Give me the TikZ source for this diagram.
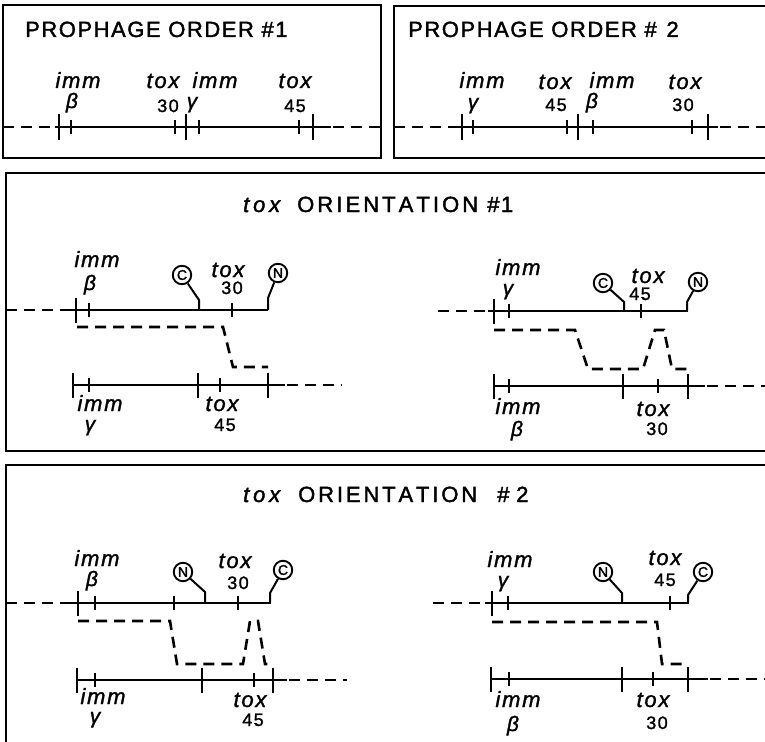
\documentclass[tikz,border=0pt]{standalone}
\usepackage{fontspec}
\setmainfont{Liberation Sans}
\newfontfamily\titlefont[LetterSpace=7,FakeBold=1.8]{Liberation Sans}
\newfontfamily\labfont[LetterSpace=8,FakeBold=1.4]{Liberation Sans}
\newfontfamily\grkfont[FakeBold=1.4]{Liberation Sans}
\newfontfamily\circfont[FakeBold=2]{Liberation Sans}
\newcommand\orient[1]{\makebox[#1][s]{O\hfill R\hfill I\hfill E\hfill N\hfill T\hfill A\hfill T\hfill I\hfill O\hfill N}}
\newcommand\toxttl{\makebox[37pt][s]{\itshape t\hfill o\hfill x}}
\tikzset{
  frame/.style={line width=2pt},
  chrom/.style={line width=2.9pt},
  dline/.style={line width=2.6pt, dash pattern=on 11pt off 7pt},
  tline/.style={line width=2.6pt},
  stem/.style={line width=2pt},
  circ/.style={circle, draw, line width=1.9pt, minimum size=18.5pt, inner sep=0pt, font=\fontsize{14}{14}\selectfont\circfont},
  lab/.style={anchor=base, inner sep=0pt, font=\fontsize{22}{22}\selectfont\labfont\itshape},
  num/.style={anchor=base, inner sep=0pt, font=\fontsize{18}{18}\selectfont\labfont},
  grk/.style={anchor=base, inner sep=0pt, font=\fontsize{21}{21}\selectfont\grkfont\itshape},
  ttl/.style={anchor=base west, inner sep=0pt, font=\fontsize{22}{22}\selectfont\titlefont},
  bigtk/.pic={\draw[tline] (0,-12.5) -- (0,12.5);},
  smtk/.pic={\draw[tline] (0,-7) -- (0,7);}
}
\begin{document}
\begin{tikzpicture}[x=1pt,y=-1pt]
\useasboundingbox (0,0) rectangle (765,741);
% frames
\draw[frame] (3,5) rectangle (381,158);
\draw[frame] (767,6) -- (394,6) -- (394,158) -- (767,158);
\draw[frame] (767,173) -- (6,173) -- (6,451) -- (767,451);
\draw[frame] (767,465) -- (6,465) -- (6,743);

% titles
\node[ttl] (t1) at (25,37) {PROPHAGE ORDER \#1};
\node[ttl] (t2) at (408,37) {PROPHAGE ORDER \#\hspace{2pt} 2};
\node[ttl] (t3a) at (243,212) {\toxttl};
\node[ttl] (t3b) at (297,212) {\orient{181pt}};
\node[ttl] (t3c) at (487,212) {\#1};
\node[ttl] (t4a) at (243,502) {\toxttl};
\node[ttl] (t4b) at (298,502) {\orient{179pt}};
\node[ttl] (t4c) at (497,502) {\#};
\node[ttl] (t4d) at (516,502) {2};

% ===== Box 1 =====
\draw[dline] (3,127) -- (55,127);
\draw[chrom] (55,127) -- (331,127);
\draw[dline] (333,127) -- (381,127);
\foreach \x in {59,186,313} \pic at (\x,127) {bigtk};
\foreach \x in {71,175,199,299} \pic at (\x,127) {smtk};
\node[lab] (a1) at (78,88) {imm};
\node[grk] (a2) at (72,108) {β};
\node[lab] (a3) at (163,88) {tox};
\node[num] (a4) at (168,112) {30};
\node[lab] (a5) at (215,88) {imm};
\node[grk] (a6) at (192,108) {γ};
\node[lab] (a7) at (295,88) {tox};
\node[num] (a8) at (295,112) {45};

% ===== Box 2 =====
\draw[dline] (394,127) -- (453,127);
\draw[chrom] (453,127) -- (718,127);
\draw[dline] (720,127) -- (767,127);
\foreach \x in {462,578,708} \pic at (\x,127) {bigtk};
\foreach \x in {473,567,593,692} \pic at (\x,127) {smtk};
\node[lab] (b1) at (482,88) {imm};
\node[grk] (b2) at (473,109) {γ};
\node[lab] (b3) at (555,89) {tox};
\node[num] (b4) at (556,111) {45};
\node[lab] (b5) at (612,88) {imm};
\node[grk] (b6) at (592,108) {β};
\node[lab] (b7) at (685,89) {tox};
\node[num] (b8) at (683,111) {30};

% ===== Box 3 left =====
\draw[dline] (6,310) -- (70,310);
\draw[chrom] (70,310) -- (268,310);
\pic at (76,310) {bigtk};
\foreach \x in {89,232} \pic at (\x,310) {smtk};
\node[circ] (c1) at (182,275) {C};
\draw[stem] (c1) -- (199,300) -- (199,310);
\node[circ] (n1) at (278,273) {N};
\draw[stem] (n1) -- (268,298) -- (268,310);
\node[lab] (d1) at (97,267) {imm};
\node[grk] (d2) at (90,290) {β};
\node[lab] (d3) at (228,277) {tox};
\node[num] (d4) at (232,294) {30};
\draw[dline] (77,327) -- (223,327) -- (233,367) -- (268,367);
\draw[chrom] (73,385) -- (285,385);
\draw[dline] (287,385) -- (342,385);
\foreach \x in {73,198,268} \pic at (\x,385) {bigtk};
\foreach \x in {89,220} \pic at (\x,385) {smtk};
\node[lab] (d5) at (100,411) {imm};
\node[grk] (d6) at (90,431) {γ};
\node[lab] (d7) at (222,411) {tox};
\node[num] (d8) at (225,431) {45};

% ===== Box 3 right =====
\draw[dline] (438,311) -- (488,311);
\draw[chrom] (488,311) -- (688,311);
\pic at (494,311) {bigtk};
\foreach \x in {509,641} \pic at (\x,311) {smtk};
\node[circ] (c2) at (603,283) {C};
\draw[stem] (c2) -- (624,302) -- (624,311);
\node[circ] (n2) at (698,282) {N};
\draw[stem] (n2) -- (687,302) -- (687,311);
\node[lab] (e1) at (518,275) {imm};
\node[grk] (e2) at (508,295) {γ};
\node[lab] (e3) at (648,283) {tox};
\node[num] (e4) at (640,300) {45};
\draw[dline] (494,330) -- (575,330) -- (588,369) -- (643,369) -- (655,330) -- (664,330) -- (672,369) -- (688,369);
\draw[chrom] (494,386) -- (705,386);
\draw[dline] (707,386) -- (767,386);
\foreach \x in {494,623,688} \pic at (\x,386) {bigtk};
\foreach \x in {509,658} \pic at (\x,386) {smtk};
\node[lab] (e5) at (518,414) {imm};
\node[grk] (e6) at (517,436) {β};
\node[lab] (e7) at (653,416) {tox};
\node[num] (e8) at (657,435) {30};

% ===== Box 4 left =====
\draw[dline] (6,603) -- (70,603);
\draw[chrom] (70,603) -- (271,603);
\pic at (78,603) {bigtk};
\foreach \x in {95,174,238} \pic at (\x,603) {smtk};
\node[circ] (n3) at (183,572) {N};
\draw[stem] (n3) -- (205,592) -- (205,603);
\node[circ] (c3) at (283,570) {C};
\draw[stem] (c3) -- (270,593) -- (270,603);
\node[lab] (f1) at (97,566) {imm};
\node[grk] (f2) at (92,586) {β};
\node[lab] (f3) at (235,568) {tox};
\node[num] (f4) at (238,589) {30};
\draw[dline] (78,621) -- (170,621) -- (177,664) -- (243,664) -- (250,621) -- (258,621) -- (265,664) -- (273,664);
\draw[chrom] (77,680) -- (287,680);
\draw[dline] (289,680) -- (347,680);
\foreach \x in {77,202,273} \pic at (\x,680) {bigtk};
\foreach \x in {95,254} \pic at (\x,680) {smtk};
\node[lab] (f5) at (103,704) {imm};
\node[grk] (f6) at (95,723) {γ};
\node[lab] (f7) at (250,707) {tox};
\node[num] (f8) at (253,726) {45};

% ===== Box 4 right =====
\draw[dline] (433,603) -- (485,603);
\draw[chrom] (485,603) -- (689,603);
\pic at (492,603) {bigtk};
\foreach \x in {508,670} \pic at (\x,603) {smtk};
\node[circ] (n4) at (603,572) {N};
\draw[stem] (n4) -- (622,593) -- (622,603);
\node[circ] (c4) at (703,572) {C};
\draw[stem] (c4) -- (688,595) -- (688,603);
\node[lab] (g1) at (510,567) {imm};
\node[grk] (g2) at (503,587) {γ};
\node[lab] (g3) at (665,565) {tox};
\node[num] (g4) at (665,586) {45};
\draw[dline] (492,622) -- (657,622) -- (662,664) -- (687,664);
\draw[chrom] (491,679) -- (708,679);
\draw[dline] (710,679) -- (767,679);
\foreach \x in {491,622,688} \pic at (\x,679) {bigtk};
\foreach \x in {509,653} \pic at (\x,679) {smtk};
\node[lab] (g5) at (518,707) {imm};
\node[grk] (g6) at (513,731) {β};
\node[lab] (g7) at (653,707) {tox};
\node[num] (g8) at (657,729) {30};
\end{tikzpicture}
\end{document}
